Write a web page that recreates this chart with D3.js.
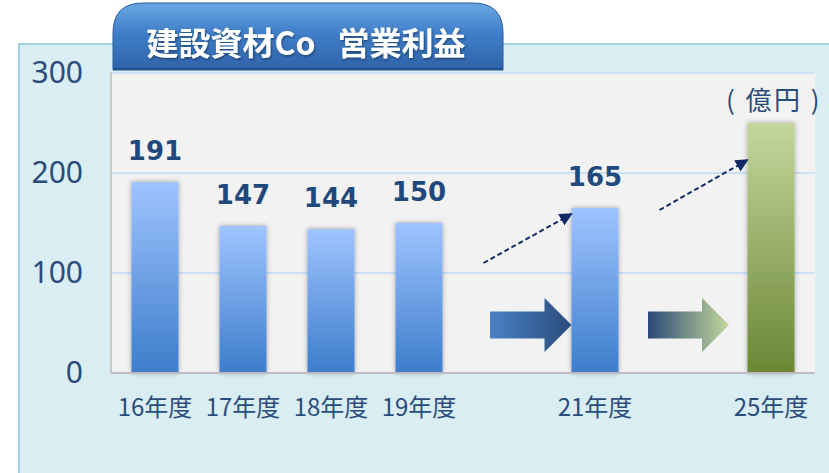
<!DOCTYPE html>
<html lang="ja">
<head>
  <meta charset="UTF-8">
  <title>建設資材Co 営業利益</title>
  <script src="https://d3js.org/d3.v7.min.js"></script>
  <style>
    body { margin: 0; background: #fff; }
    svg { display: block; }
    .tick-y text { font-family: "Noto Sans", sans-serif; font-size: 30px; fill: #2a4c7d; }
    .tick-x text { font-family: "Noto Sans CJK JP", sans-serif; font-size: 24px; fill: #2a4c7d; }
    .value-label { font-family: "DejaVu Sans", sans-serif; font-weight: bold; font-size: 26px; fill: #1f497d; }
  </style>
</head>
<body>
  <div id="chart"></div>
  <script>
    // slots on the x axis (20年度 and 22-24年度 are empty gaps)
    const slots = ["16年度", "17年度", "18年度", "19年度", "gap20", "21年度", "gap22", "25年度"];
    const categories = ["16年度", "17年度", "18年度", "19年度", "21年度", "25年度"];
    const values = [191, 147, 144, 150, 165, 250];
    const showLabel = [true, true, true, true, true, false];
    const yTicks = [0, 100, 200, 300];
    const title = "建設資材Co\u00a0\u00a0\u00a0営業利益";
    const unitLabel = "( 億円 )";
    // dashed trend arrows: gap slot -> next bar, start/end values
    const trendGaps = ["gap20", "gap22"];
    const trendTargets = ["21年度", "25年度"];
    const trendFrom = [110, 163];
    const trendTo = [159, 213];
    const blockArrowLevel = 48;

    const width = 829, height = 473;
    const plot = { left: 111, right: 815, top: 73, bottom: 373 };

    const svg = d3.select("#chart").append("svg")
      .attr("width", width)
      .attr("height", height);

    const defs = svg.append("defs");

    function vGrad(id, top, bottom) {
      const g = defs.append("linearGradient").attr("id", id)
        .attr("x1", 0).attr("y1", 0).attr("x2", 0).attr("y2", 1);
      g.append("stop").attr("offset", "0%").attr("stop-color", top);
      g.append("stop").attr("offset", "100%").attr("stop-color", bottom);
    }
    function hGrad(id, left, right) {
      const g = defs.append("linearGradient").attr("id", id)
        .attr("x1", 0).attr("y1", 0).attr("x2", 1).attr("y2", 0);
      g.append("stop").attr("offset", "0%").attr("stop-color", left);
      g.append("stop").attr("offset", "100%").attr("stop-color", right);
    }
    vGrad("barBlue", "#9fc4ff", "#3d7dcb");
    vGrad("barGreen", "#c4d79d", "#6b8735");
    hGrad("arrowBlue", "#4a82c6", "#2b4b7c");
    hGrad("arrowGreen", "#2b4a77", "#c4d89d");

    const tabGrad = defs.append("linearGradient").attr("id", "tabGrad")
      .attr("x1", 0).attr("y1", 0).attr("x2", 0).attr("y2", 1);
    tabGrad.append("stop").attr("offset", "0%").attr("stop-color", "#6aa7e3");
    tabGrad.append("stop").attr("offset", "45%").attr("stop-color", "#3f7ec9");
    tabGrad.append("stop").attr("offset", "100%").attr("stop-color", "#2f63a8");

    const shadow = defs.append("filter").attr("id", "barShadow")
      .attr("x", "-30%").attr("y", "-10%").attr("width", "160%").attr("height", "120%");
    shadow.append("feDropShadow").attr("dx", 0).attr("dy", 0)
      .attr("stdDeviation", 2.5).attr("flood-color", "#000").attr("flood-opacity", 0.35);

    const textShadow = defs.append("filter").attr("id", "textShadow");
    textShadow.append("feDropShadow").attr("dx", 1).attr("dy", 1.5)
      .attr("stdDeviation", 1).attr("flood-color", "#000").attr("flood-opacity", 0.4);

    defs.append("marker").attr("id", "head")
      .attr("viewBox", "0 0 10 10").attr("refX", 9).attr("refY", 5)
      .attr("markerWidth", 13).attr("markerHeight", 13)
      .attr("markerUnits", "userSpaceOnUse")
      .attr("orient", "auto")
      .append("path").attr("d", "M0,0 L10,5 L0,10 Z").attr("fill", "#0f2a66");

    // outer light-blue panel
    svg.append("rect")
      .attr("x", 19).attr("y", 44)
      .attr("width", width).attr("height", height)
      .attr("fill", "#daedf3")
      .attr("stroke", "#9fd1df").attr("stroke-width", 2);

    // scales
    const x = d3.scaleBand().domain(slots)
      .range([plot.left, plot.right])
      .paddingInner(0.466).paddingOuter(0.233);
    const y = d3.scaleLinear().domain([0, 300]).range([plot.bottom, plot.top]);

    // plot area
    svg.append("rect")
      .attr("x", plot.left).attr("y", plot.top)
      .attr("width", plot.right - plot.left).attr("height", plot.bottom - plot.top)
      .attr("fill", "#f2f2f2");

    svg.append("g").selectAll("line")
      .data(yTicks.filter(d => d > 0))
      .join("line")
      .attr("x1", plot.left).attr("x2", plot.right)
      .attr("y1", d => y(d)).attr("y2", d => y(d))
      .attr("stroke", "#cbe0f3").attr("stroke-width", 2);

    svg.append("line")
      .attr("x1", plot.left).attr("x2", plot.left)
      .attr("y1", plot.top - 1).attr("y2", plot.bottom)
      .attr("stroke", "#bdbdbd").attr("stroke-width", 1.5);

    // title tab
    const tl = 113, tr = 503, tt = 3, tb = 70, rad = 30;
    svg.append("path")
      .attr("d", `M${tl},${tb} L${tl},${tt + rad} Q${tl},${tt} ${tl + rad},${tt} L${tr - rad},${tt} Q${tr},${tt} ${tr},${tt + rad} L${tr},${tb} Z`)
      .attr("fill", "url(#tabGrad)")
      .attr("stroke", "#2b5a9a").attr("stroke-width", 1);
    svg.append("line")
      .attr("x1", tl).attr("x2", tr).attr("y1", tb - 1).attr("y2", tb - 1)
      .attr("stroke", "#254f8c").attr("stroke-width", 2);
    svg.append("text")
      .attr("x", 306).attr("y", 41)
      .attr("text-anchor", "middle").attr("dominant-baseline", "central")
      .attr("font-family", "'Noto Sans CJK JP', sans-serif")
      .attr("font-weight", "bold").attr("font-size", 32)
      .attr("fill", "#fff")
      .attr("filter", "url(#textShadow)")
      .text(title);

    // bars
    const data = categories.map((c, i) => ({ cat: c, value: values[i], label: showLabel[i] }));
    svg.append("g").selectAll("rect")
      .data(data)
      .join("rect")
      .attr("x", d => x(d.cat))
      .attr("y", d => y(d.value))
      .attr("width", x.bandwidth())
      .attr("height", d => y(0) - y(d.value))
      .attr("fill", (d, i) => i === data.length - 1 ? "url(#barGreen)" : "url(#barBlue)")
      .attr("filter", "url(#barShadow)");

    svg.append("line")
      .attr("x1", plot.left).attr("x2", plot.right)
      .attr("y1", plot.bottom).attr("y2", plot.bottom)
      .attr("stroke", "#bdbdbd").attr("stroke-width", 2);

    svg.append("g").selectAll("text")
      .data(data.filter(d => d.label))
      .join("text")
      .attr("class", "value-label")
      .attr("x", d => x(d.cat) + x.bandwidth() / 2)
      .attr("y", d => y(d.value) - 22)
      .attr("text-anchor", "middle")
      .text(d => d.value);

    svg.append("text")
      .attr("x", x("25年度") + x.bandwidth() / 2 + 3)
      .attr("y", 98)
      .attr("text-anchor", "middle").attr("dominant-baseline", "central")
      .attr("font-family", "'Noto Sans CJK JP', sans-serif")
      .attr("font-size", 26).attr("letter-spacing", 2.5).attr("fill", "#2a4c7d")
      .text(unitLabel);

    // block arrows between bars
    const ay = y(blockArrowLevel), shaft = 13.5, head = 27, headLen = 27;
    function blockArrow(x0, x1) {
      return `M${x0},${ay - shaft} L${x1 - headLen},${ay - shaft} L${x1 - headLen},${ay - head} L${x1},${ay} L${x1 - headLen},${ay + head} L${x1 - headLen},${ay + shaft} L${x0},${ay + shaft} Z`;
    }
    svg.append("path")
      .attr("d", blockArrow(x("gap20") + 6.5, x("21年度")))
      .attr("fill", "url(#arrowBlue)");
    svg.append("path")
      .attr("d", blockArrow(x("gap22") - 11.5, x("25年度") - 18.5))
      .attr("fill", "url(#arrowGreen)");

    // dashed trend arrows
    svg.append("g").selectAll("line")
      .data(trendGaps.map((g, i) => ({ g, t: trendTargets[i], from: trendFrom[i], to: trendTo[i] })))
      .join("line")
      .attr("x1", d => x(d.g))
      .attr("y1", d => y(d.from))
      .attr("x2", d => x(d.t))
      .attr("y2", d => y(d.to))
      .attr("stroke", "#0f2a66").attr("stroke-width", 2)
      .attr("stroke-dasharray", "5,3")
      .attr("marker-end", "url(#head)");

    // axes
    const yAxis = svg.append("g")
      .attr("class", "tick-y")
      .attr("transform", `translate(${plot.left},0)`)
      .call(d3.axisLeft(y).tickValues(yTicks).tickSize(0).tickPadding(28));
    yAxis.select(".domain").remove();

    const xAxis = svg.append("g")
      .attr("class", "tick-x")
      .attr("transform", `translate(0,${plot.bottom})`)
      .call(d3.axisBottom(x).tickValues(categories).tickSize(0).tickPadding(26));
    xAxis.select(".domain").remove();
    svg.selectAll(".tick-x text, .tick-y text").attr("font-family", null).attr("font-size", null).attr("fill", null);
  </script>
</body>
</html>
